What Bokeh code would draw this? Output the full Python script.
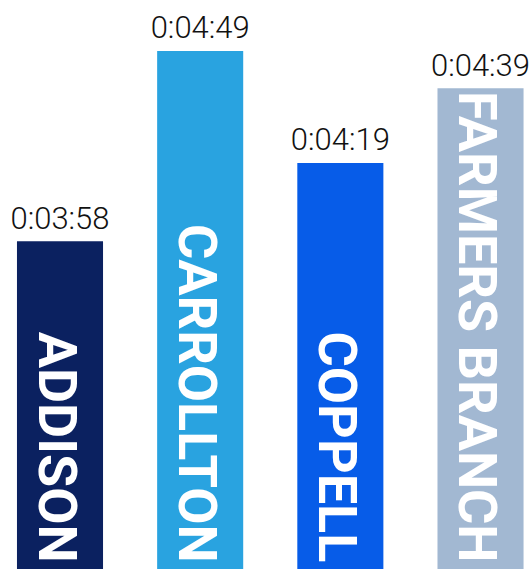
from bokeh.plotting import figure
from bokeh.models import ColumnDataSource, Range1d
from bokeh.core.properties import value
from bokeh.embed import file_html
from bokeh.resources import INLINE
import math

cities = ["ADDISON", "CARROLLTON", "COPPELL", "FARMERS BRANCH"]
seconds = [238, 289, 259, 279]
palette = ["#0b2160", "#29a3e0", "#075ce8", "#a2b8d2"]

def fmt(s):
    return f"{s // 3600}:{(s % 3600) // 60:02d}:{s % 60:02d}"

Y0, Y1 = 150.1, 302.5
src = ColumnDataSource(dict(
    x=list(range(len(cities))),
    top=seconds,
    base=[Y0] * len(cities),
    name=cities,
    label=[fmt(s) for s in seconds],
    color=palette,
))

p = figure(width=530, height=569, output_backend="svg", toolbar_location=None,
           x_range=Range1d(-0.4245, 3.3566), y_range=Range1d(Y0, Y1),
           min_border=0, outline_line_color=None)
p.axis.visible = False
p.grid.visible = False

p.vbar(x="x", top="top", bottom=0, width=0.614, color="color", line_color=None, source=src)

p.text(x="x", y="top", text="label", source=src, text_align="center",
       text_baseline="alphabetic", y_offset=-23, text_color="#111111",
       text_font=value("'Roboto Light', Roboto, sans-serif"), text_font_size="31px")

p.text(x="x", y="base", text="name", source=src, angle=-math.pi / 2,
       text_align="right", text_baseline="middle", x_offset=-3, y_offset=-7,
       text_color="white", text_font=value("Roboto"),
       text_font_style="bold", text_font_size="54px")

open("out.html", "w").write(file_html(p, INLINE))
